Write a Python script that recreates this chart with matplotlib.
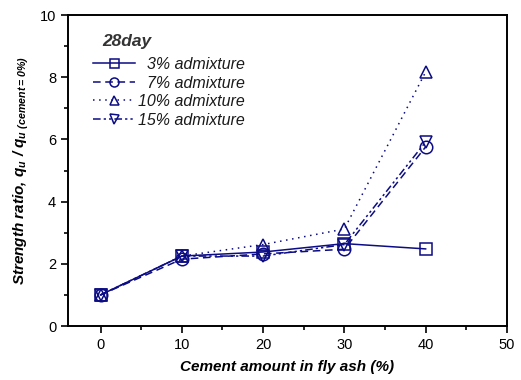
import matplotlib
matplotlib.use("Agg")
import matplotlib.pyplot as plt
from matplotlib.ticker import MultipleLocator

plt.rcParams['font.family'] = ['Liberation Sans', 'DejaVu Sans']
plt.rcParams['mathtext.default'] = 'regular'

cement = [0, 10, 20, 30, 40]
s3 = [1.0, 2.25, 2.38, 2.65, 2.48]
s7 = [1.0, 2.15, 2.32, 2.47, 5.76]
s10 = [1.0, 2.25, 2.62, 3.12, 8.17]
s15 = [1.0, 2.25, 2.25, 2.62, 5.92]
labels = ['  3% admixture', '  7% admixture', '10% admixture', '15% admixture']
legend_title = '28day'

color = '#0c0c84'
fig = plt.figure(figsize=(5.21, 3.80), dpi=100)
ax = fig.add_axes([0.1305, 0.142, 0.8425, 0.8185])

styles = [('-', 's'), ((0, (5, 3)), 'o'), ((0, (1, 3)), '^'), ((0, (5, 2, 1.5, 2, 1.5, 2)), 'v')]
for ys, lab, (ls, mk) in zip([s3, s7, s10, s15], labels, styles):
    ax.plot(cement, ys, linestyle=ls, marker=mk, color=color, lw=1.1,
            markersize=9, markerfacecolor='none', markeredgecolor=color,
            markeredgewidth=1.1, label=lab)

ax.set_xlim(-4, 50)
ax.set_ylim(0, 10)
ax.xaxis.set_major_locator(MultipleLocator(10))
ax.xaxis.set_minor_locator(MultipleLocator(5))
ax.yaxis.set_major_locator(MultipleLocator(2))
ax.yaxis.set_minor_locator(MultipleLocator(1))
ax.tick_params(which='both', direction='out', labelsize=10.5, width=1.2)
ax.tick_params(which='major', length=5)
ax.tick_params(which='minor', length=3)
for sp in ax.spines.values():
    sp.set_linewidth(1.4)

ax.set_xlabel('Cement amount in fly ash (%)', fontsize=11, fontweight='bold',
              fontstyle='italic', labelpad=6)
ax.set_ylabel(r'Strength ratio, $q_u$ / $q_{u\ (cement=0\%)}$', fontsize=11,
              fontweight='bold', fontstyle='italic', labelpad=6)

leg = ax.legend(loc='upper left', bbox_to_anchor=(0.057, 0.865), frameon=False,
                fontsize=11.5, handlelength=2.6, labelspacing=0.22,
                handletextpad=0.2, borderaxespad=0.0, borderpad=0.0,
                markerscale=0.72)
for t in leg.get_texts():
    t.set_fontstyle('italic')
    t.set_color('#1a1a1a')

ax.text(0.077, 0.916, legend_title, transform=ax.transAxes, fontsize=12.5,
        fontweight='bold', fontstyle='italic', color='#333333',
        ha='left', va='center')

fig.savefig('out.png', dpi=100)
